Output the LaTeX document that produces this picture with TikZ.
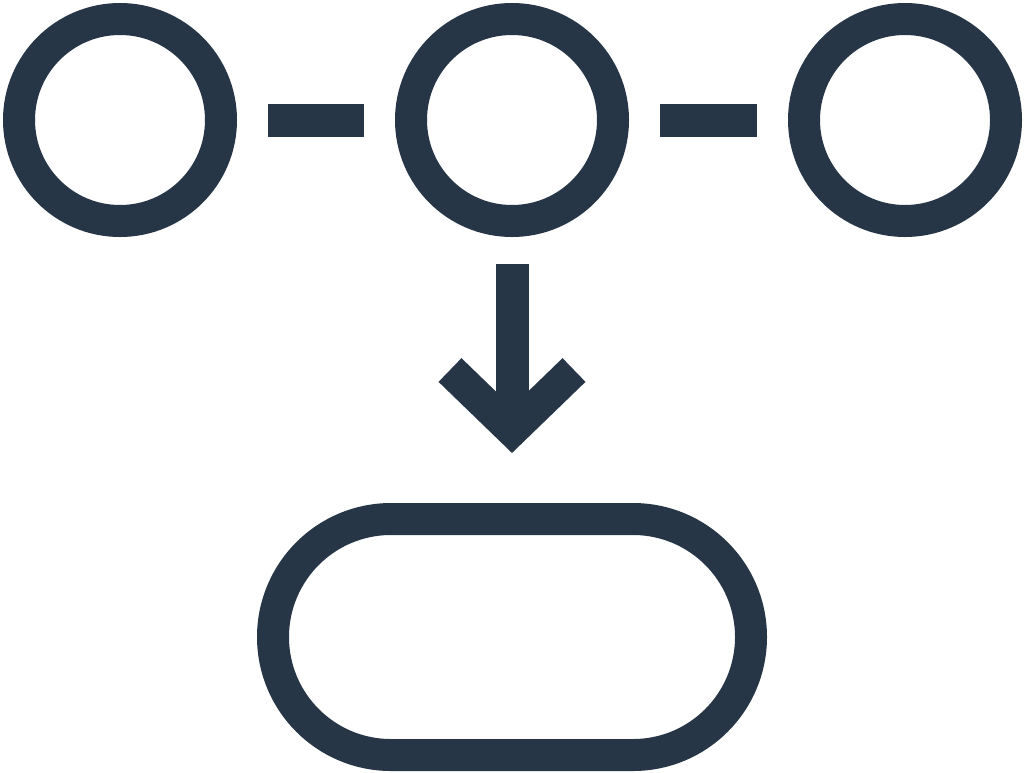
\documentclass[tikz,border=0pt]{standalone}
\usepackage{tikz}
\usetikzlibrary{calc}
\definecolor{iconblue}{HTML}{263646}

\begin{document}
\begin{tikzpicture}[line join=miter, x=1pt, y=-1pt,
    ring/.style={circle, draw=iconblue, line width=32pt,
                 minimum size=202pt, inner sep=0pt},
    pill/.style={rectangle, draw=iconblue, line width=32pt,
                 rounded corners=118pt, minimum width=478pt,
                 minimum height=236pt, inner sep=0pt},
    link/.style={draw=iconblue, line width=33pt, line cap=butt}]
\useasboundingbox (0,0) rectangle (1024,772);
\foreach \n/\x in {a/120,b/512,c/905}
\node [ring] (\n) at (\x,120) {};
\draw [link, shorten <=31pt, shorten >=31pt] (a) -- (b);
\draw [link, shorten <=31pt, shorten >=31pt] (b) -- (c);
\node [pill] (box) at (512,637) {};
\coordinate (tip) at (512,430);
\draw [link, shorten <=27pt] (b) -- (tip);
\draw [link] ($(tip)+(-62,-60)$) -- (tip) -- ($(tip)+(62,-60)$);
\end{tikzpicture}
\end{document}
